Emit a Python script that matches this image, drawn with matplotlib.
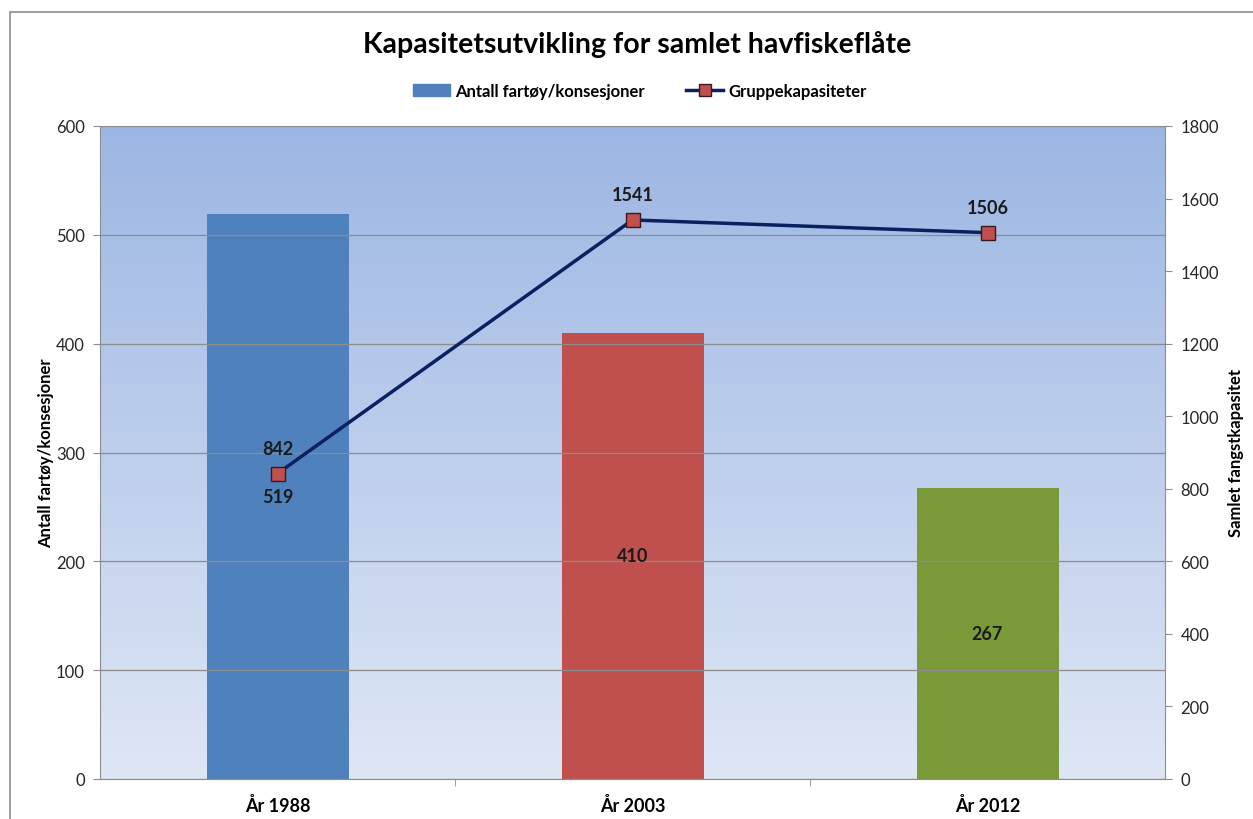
import numpy as np
import matplotlib
matplotlib.use('Agg')
import matplotlib.pyplot as plt
from matplotlib.patches import Rectangle
from matplotlib.lines import Line2D
from matplotlib.colors import LinearSegmentedColormap

plt.rcParams['font.family'] = ['Lato', 'DejaVu Sans']

# data
years = ['År 1988', 'År 2003', 'År 2012']
antall = [519, 410, 267]
kapasitet = [842, 1541, 1506]
bar_colors = ['#4F81BD', '#C0504D', '#7A9A3A']

fig = plt.figure(figsize=(12.53, 8.2), dpi=100)
# chart border
fig.patches.append(Rectangle((10 / 1253, -0.1), 1.2, 1 - 13 / 820 + 0.1,
                             transform=fig.transFigure, fill=False,
                             edgecolor='#8C8C8C', linewidth=1.2))

ax = fig.add_axes([100 / 1253, 40 / 820, 1065 / 1253, 653 / 820])
x = np.arange(len(years))

# gradient background
grad = np.linspace(0, 1, 256).reshape(-1, 1)
cmap = LinearSegmentedColormap.from_list('bg', ['#DFE7F5', '#9CB6E3'])
ax.imshow(grad, cmap=cmap, aspect='auto', origin='lower',
          extent=[-0.5, 2.5, 0, 600], zorder=0)

ax.set_xlim(-0.5, 2.5)
ax.set_ylim(0, 600)
ax.set_yticks(range(0, 601, 100))
ax.yaxis.grid(True, color='#8C8C8C', linewidth=0.9, zorder=1)
ax.set_axisbelow(False)

bars = ax.bar(x, antall, width=0.4, color=bar_colors, zorder=2)
for xi, v in zip(x, antall):
    ax.text(xi, v / 2, str(v), ha='center', va='center', fontsize=13,
            fontweight='bold', color='#1A1A1A', zorder=5)

ax.set_xticks(x)
ax.set_xticklabels(years, fontsize=13, fontweight='bold')
ax.set_xticks([0.5, 1.5], minor=True)
ax.tick_params(axis='x', which='major', length=0, pad=12)
ax.tick_params(axis='x', which='minor', length=5, color='#8C8C8C')
ax.tick_params(axis='y', length=5, color='#8C8C8C', labelsize=12,
               labelcolor='#262626', pad=6)
for s in ['top', 'right']:
    ax.spines[s].set_visible(False)
for s in ['left', 'bottom']:
    ax.spines[s].set_color('#8C8C8C')
ax.set_ylabel('Antall fartøy/konsesjoner', fontsize=12, fontweight='bold',
              labelpad=1)

ax2 = ax.twinx()
ax2.set_ylim(0, 1800)
ax2.set_yticks(range(0, 1801, 200))
ax2.plot(x, kapasitet, color='#0A2060', linewidth=2.5, marker='s',
         markersize=10, markerfacecolor='#C0504D', markeredgecolor='#3A1A1A',
         markeredgewidth=1, zorder=4)
for xi, v in zip(x, kapasitet):
    ax2.text(xi, v + 70, str(v), ha='center', va='center', fontsize=13,
             fontweight='bold', color='#1A1A1A')
ax2.tick_params(axis='y', length=5, color='#8C8C8C', labelsize=12,
                labelcolor='#262626', pad=6)
for s in ['top', 'left', 'bottom']:
    ax2.spines[s].set_visible(False)
ax2.spines['right'].set_color('#8C8C8C')
ax2.set_ylabel('Samlet fangstkapasitet', fontsize=12, fontweight='bold',
               labelpad=7)

fig.text(637 / 1253, 1 - 45 / 820, 'Kapasitetsutvikling for samlet havfiskeflåte',
         ha='center', va='center', fontsize=20.5, fontweight='bold')

handles = [Rectangle((0, 0), 1, 1, color='#4F81BD'),
           Line2D([], [], color='#0A2060', linewidth=2.5, marker='s',
                  markersize=8, markerfacecolor='#C0504D',
                  markeredgecolor='#3A1A1A')]
fig.legend(handles, ['Antall fartøy/konsesjoner', 'Gruppekapasiteter'],
           loc='center', bbox_to_anchor=(640 / 1253, 1 - 92 / 820), ncol=2,
           frameon=False, prop={'weight': 'bold', 'size': 12},
           handlelength=2.2, columnspacing=2.5, handletextpad=0.3)

fig.savefig('out.png', dpi=100)
